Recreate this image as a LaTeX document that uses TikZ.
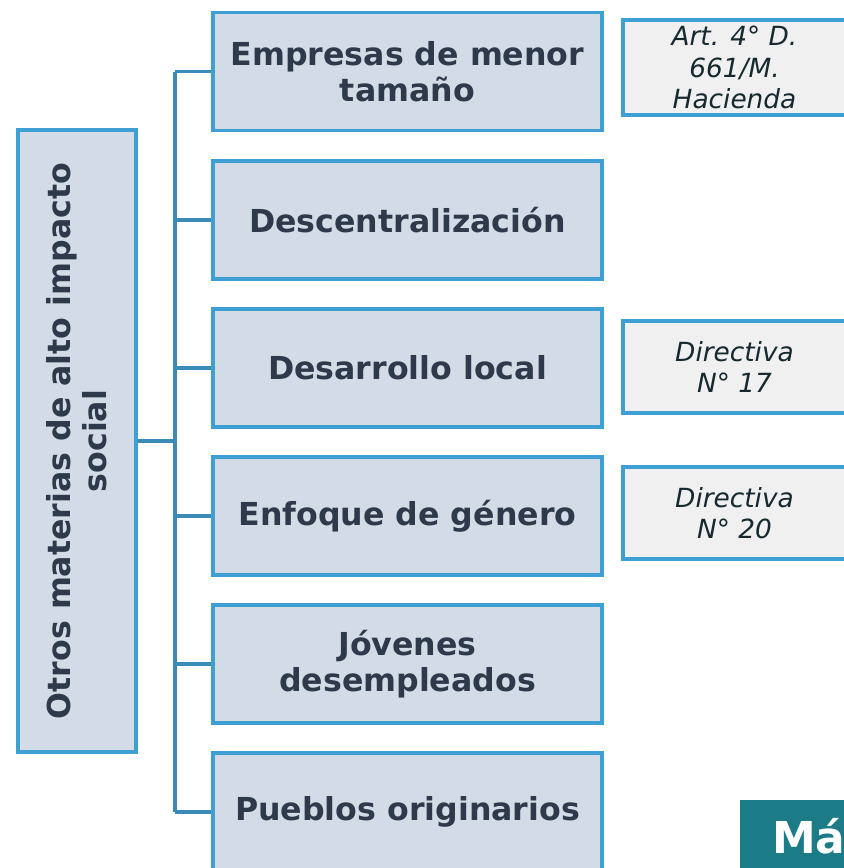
\documentclass[tikz,border=0pt]{standalone}
\usepackage{fontspec}
\setmainfont{DejaVu Sans}
\usepackage{tikz}
\usetikzlibrary{calc}
\definecolor{boxfill}{HTML}{D3DCE6}
\definecolor{boxline}{HTML}{3E9FD2}
\definecolor{linkcolor}{HTML}{3A8BB8}
\definecolor{textcolor}{HTML}{2E3A4C}
\definecolor{notefill}{HTML}{F0F0F0}
\definecolor{notetext}{HTML}{15292F}
\definecolor{tealbox}{HTML}{1B7B86}

\begin{document}
\begin{tikzpicture}[x=0.2mm,y=-0.2mm,
    topic/.style={draw=boxline,fill=boxfill,line width=2pt,minimum width=77.8mm,minimum height=23.6mm,
      align=center,text=textcolor,font=\fontsize{18}{20.5}\selectfont\bfseries},
    note/.style={draw=boxline,fill=notefill,line width=2pt,minimum width=44.6mm,minimum height=18.4mm,
      align=center,text=notetext,font=\fontsize{15}{18}\selectfont\itshape},
    link/.style={draw=linkcolor,line width=2.2pt}]
\path[use as bounding box,clip] (0,0) rectangle (844,868);
   % main column
   \node[topic,rotate=90,minimum width=124.4mm] (root) at (77,441) {Otros materias de alto impacto\\ social};
   \node[topic] (b1) at (407.5,71.5) {Empresas de menor\\ tamaño};
   \node[topic] (b2) at (407.5,220) {Descentralización};
   \node[topic] (b3) at (407.5,368) {Desarrollo local};
   \node[topic] (b4) at (407.5,516) {Enfoque de género};
   \node[topic] (b5) at (407.5,664) {Jóvenes\\ desempleados};
   \node[topic] (b6) at (407.5,812) {Pueblos originarios};
   % notes on the right
   \node[note] (n1) at (734.5,67.5) {Art. 4° D.\\ 661/M.\\ Hacienda};
   \node[note] (n3) at (734.5,367) {Directiva\\ N° 17};
   \node[note] (n4) at (734.5,513) {Directiva\\ N° 20};
   \node[fill=tealbox,minimum width=22mm,minimum height=16mm,anchor=north west] (more) at (740,800) {};
   \node[anchor=west,text=white,font=\fontsize{25}{30}\selectfont\bfseries] (moretext) at (766,836) {Má};
   % connectors
   \coordinate (trunk) at (175,441);
   \draw[link] (root.south) -- (root.south -| trunk);
   \draw[link] (b1.west -| trunk) -- (b6.west -| trunk);
\foreach \i in {1,...,6}
    \draw[link] (b\i.west -| trunk) -- (b\i.west);
\end{tikzpicture}
\end{document}
